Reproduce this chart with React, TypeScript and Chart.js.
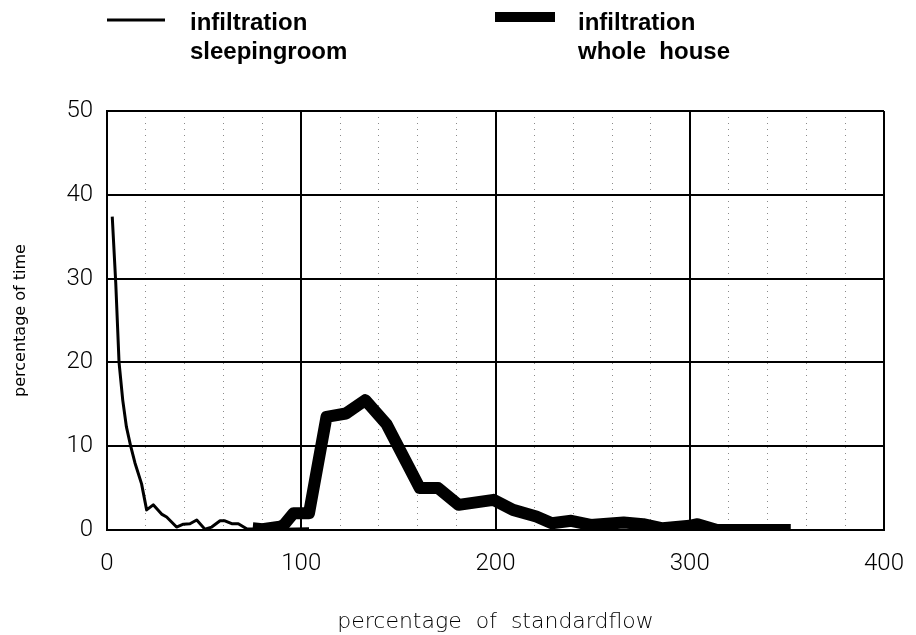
import { useEffect, useRef } from "react";
import { Chart, registerables } from "chart.js";

Chart.register(...registerables);

// infiltration measured in the sleeping room
const sleepFlow = [2.7, 4.5, 6.2, 8.1, 10, 12.2, 14.4, 17.8, 20.4, 23.8, 28.1, 30.7, 35.8, 39.3, 42.7, 46.2, 50.4, 53.9, 58.2, 60.7, 64.2, 67.6, 71.9, 80, 90, 104];
const sleepTime = [37.4, 29.5, 20, 15.5, 12.3, 10, 8, 5.5, 2.4, 3.0, 1.9, 1.55, 0.35, 0.7, 0.75, 1.2, 0.1, 0.35, 1.1, 1.1, 0.75, 0.75, 0.15, 0.1, 0.1, 0.15];

// infiltration of the whole house
const houseFlow = [75, 80, 89, 91, 96, 104, 113, 123, 133, 144, 161, 170.5, 181, 199, 209, 221, 229, 239, 249, 266, 276, 286, 300, 304, 314, 319, 352];
const houseTime = [0.2, 0.1, 0.4, 0.6, 2.0, 2.0, 13.5, 13.9, 15.5, 12.6, 5.0, 5.0, 3.0, 3.6, 2.4, 1.6, 0.8, 1.1, 0.6, 0.9, 0.7, 0.2, 0.5, 0.7, 0, 0, 0];

const seriesLabels = [
  ["infiltration", "sleepingroom"],
  ["infiltration", "whole  house"],
];

const xTicks = [0, 100, 200, 300, 400];
const yTicks = [0, 10, 20, 30, 40, 50];

const toPoints = (xs: number[], ys: number[]) => xs.map((x, i) => ({ x, y: ys[i] }));

// key drawn above the plot: a line sample followed by a two-line caption
const keyPlugin = {
  id: "seriesKey",
  afterDraw(chart: any) {
    const ctx = chart.ctx as CanvasRenderingContext2D;
    const slots = [
      { x0: 107, x1: 165, y: 20, w: 3, tx: 190 },
      { x0: 495, x1: 555, y: 17, w: 10, tx: 578 },
    ];
    ctx.save();
    chart.data.datasets.forEach((ds: any, i: number) => {
      const s = slots[i];
      ctx.strokeStyle = "#000";
      ctx.lineWidth = s.w;
      ctx.lineCap = "butt";
      ctx.beginPath();
      ctx.moveTo(s.x0, s.y);
      ctx.lineTo(s.x1, s.y);
      ctx.stroke();
      ctx.fillStyle = "#000";
      ctx.font = "bold 24px 'Liberation Sans', Arial, sans-serif";
      ctx.textBaseline = "alphabetic";
      ctx.textAlign = "left";
      (ds.label as string).split("\n").forEach((line, j) => {
        ctx.fillText(line, s.tx, 30 + j * 29);
      });
    });
    ctx.restore();
  },
};

export default function App() {
  const canvasRef = useRef<HTMLCanvasElement | null>(null);

  useEffect(() => {
    const canvas = canvasRef.current;
    if (!canvas) return;
    const tickFont = { family: "Roboto, 'Liberation Sans', sans-serif", size: 24, weight: "300" as any };
    const chart = new Chart(canvas, {
      type: "line",
      data: {
        datasets: [
          {
            label: seriesLabels[0].join("\n"),
            data: toPoints(sleepFlow, sleepTime),
            borderColor: "#000",
            borderWidth: 3,
            pointRadius: 0,
            tension: 0,
            borderJoinStyle: "round",
            fill: false,
          },
          {
            label: seriesLabels[1].join("\n"),
            data: toPoints(houseFlow, houseTime),
            borderColor: "#000",
            borderWidth: 12,
            pointRadius: 0,
            tension: 0,
            borderJoinStyle: "round",
            borderCapStyle: "butt",
            fill: false,
          },
        ],
      },
      options: {
        animation: false,
        responsive: false,
        parsing: false as any,
        layout: { padding: { top: 111, right: 32, left: 0, bottom: 0 } },
        plugins: {
          legend: { display: false },
          tooltip: { enabled: false },
        },
        scales: {
          x: {
            type: "linear",
            min: 0,
            max: 400,
            afterFit: (s: any) => {
              s.height = 105;
              s.paddingLeft = 0;
              s.paddingRight = 0;
            },
            ticks: {
              stepSize: 20,
              autoSkip: false,
              maxRotation: 0,
              padding: 20,
              color: "#000",
              font: tickFont,
              callback: (v: any) => (xTicks.includes(Number(v)) ? String(v) : ""),
            },
            grid: {
              drawTicks: false,
              color: (c: any) => (c.tick && c.tick.value % 100 === 0 ? "#000" : "#8a8a8a"),
              lineWidth: (c: any) => (c.tick && c.tick.value % 100 === 0 ? 2 : 1),
            },
            border: {
              color: "#000",
              width: 2,
              dash: (c: any) => (c.tick && c.tick.value % 100 !== 0 ? [1, 5] : []),
            },
            title: {
              display: true,
              text: "percentage  of  standardflow",
              color: "#000",
              font: { family: "'DejaVu Sans', sans-serif", size: 22, weight: "200" as any },
              padding: { top: 0, bottom: 0 },
            },
          },
          y: {
            type: "linear",
            min: 0,
            max: 50,
            afterFit: (s: any) => {
              s.width = 107;
            },
            ticks: {
              stepSize: 10,
              padding: 14,
              color: "#000",
              font: tickFont,
              callback: (v: any) => (yTicks.includes(Number(v)) ? String(v) : ""),
            },
            grid: {
              drawTicks: false,
              color: "#000",
              lineWidth: 2,
            },
            border: { color: "#000", width: 2 },
            title: {
              display: true,
              text: "percentage of time",
              color: "#000",
              font: { family: "'DejaVu Sans', sans-serif", size: 16 },
              padding: { top: 11, bottom: 0 },
            },
          },
        },
      },
      plugins: [keyPlugin],
    });
    return () => chart.destroy();
  }, []);

  return (
    <div style={{ position: "fixed", left: 0, top: 0, width: 916, height: 635, background: "#fff" }}>
      <canvas ref={canvasRef} width={916} height={635} />
    </div>
  );
}
